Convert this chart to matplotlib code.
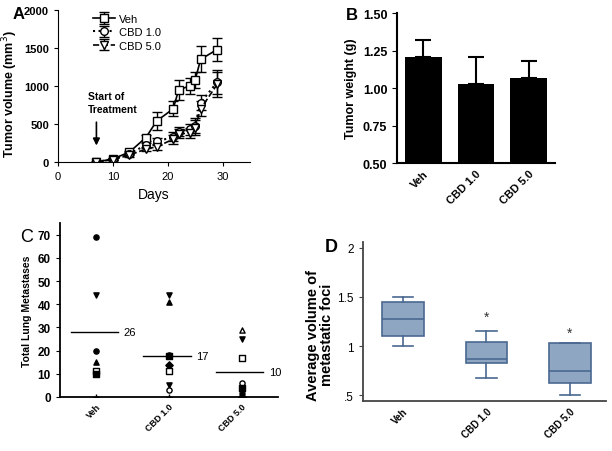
import matplotlib.pyplot as plt
import numpy as np

plt.rcParams['font.family'] = ['Liberation Sans', 'DejaVu Sans']

# --- panel A: tumor growth
days = [7, 10, 13, 16, 18, 21, 22, 24, 25, 26, 29]
veh_vol = [0, 40, 130, 320, 540, 700, 950, 1000, 1080, 1350, 1480]
veh_err = [0, 10, 20, 40, 120, 100, 130, 100, 100, 170, 150]
cbd1_vol = [0, 40, 110, 220, 270, 330, 400, 430, 480, 780, 1050]
cbd1_err = [0, 10, 20, 30, 40, 60, 60, 70, 100, 100, 160]
cbd5_vol = [0, 30, 90, 170, 200, 300, 370, 380, 450, 700, 1020]
cbd5_err = [0, 10, 20, 30, 40, 60, 60, 70, 100, 100, 160]

# --- panel B: tumor weight
groups = ['Veh', 'CBD 1.0', 'CBD 5.0']
weight = [1.21, 1.03, 1.07]
weight_err = [0.11, 0.18, 0.11]

# --- panel C: lung metastases (value, marker, filled)
veh_mets = [(69, 'o', 1), (44, 'v', 1), (20, 'o', 1), (15, '^', 1), (11, 's', 0), (10, 's', 1), (0, '+', 1)]
cbd1_mets = [(44, 'v', 1), (41, '^', 1), (18, 'o', 1), (17.5, 's', 1), (14, 'D', 1), (12.5, '^', 1),
             (11, 's', 0), (5, 'v', 1), (3, 'o', 0), (0, '+', 1)]
cbd5_mets = [(29, '^', 0), (25, 'v', 1), (17, 's', 0), (6, 'o', 0), (4, 's', 1), (2, '^', 1), (1, 'v', 1), (0, 'D', 1)]
mets_line = [28, 17.7, 10.8]
mets_label = ['26', '17', '10']

# --- panel D: foci volume box stats
box_low = [1.0, 0.67, 0.5]
box_q1 = [1.1, 0.83, 0.62]
box_med = [1.28, 0.87, 0.75]
box_q3 = [1.45, 1.04, 1.03]
box_high = [1.5, 1.15, 1.03]
star_y = [None, 1.3, 1.14]

fig = plt.figure(figsize=(6.12, 4.52), dpi=100)

# A
axA = fig.add_axes([0.0948, 0.6394, 0.3137, 0.3363])
axA.errorbar(days, veh_vol, yerr=veh_err, color='black', ls='-', lw=1.2, marker='s', ms=5.5,
             mfc='white', mec='black', capsize=3.5, elinewidth=1, label='Veh')
axA.errorbar(days, cbd1_vol, yerr=cbd1_err, color='black', ls=':', lw=1.5, marker='o', ms=5.5,
             mfc='white', mec='black', capsize=3.5, elinewidth=1, label='CBD 1.0')
axA.errorbar(days, cbd5_vol, yerr=cbd5_err, color='black', ls='--', lw=1.2, marker='v', ms=5.5,
             mfc='white', mec='black', capsize=3.5, elinewidth=1, label='CBD 5.0')
axA.set_xlim(0, 35)
axA.set_ylim(0, 2000)
axA.set_xticks([0, 10, 20, 30])
axA.set_yticks([0, 500, 1000, 1500, 2000])
axA.spines['top'].set_visible(False)
axA.spines['right'].set_visible(False)
axA.tick_params(labelsize=8, direction='out', length=3)
for t in axA.get_yticklabels():
    t.set_fontweight('bold')
axA.set_xlabel('Days', fontsize=10)
axA.set_ylabel('Tumor volume (mm$^3$)', fontsize=9, fontweight='bold')
axA.yaxis.set_label_coords(-0.2, 0.45)
axA.legend(loc='upper left', bbox_to_anchor=(0.13, 1.04), frameon=False, fontsize=8,
           handlelength=2, handletextpad=0.3, labelspacing=0.3)
axA.text(5.5, 780, 'Start of\nTreatment', fontsize=7.5, fontweight='bold', ha='left', va='center',
         linespacing=1.4)
axA.annotate('', xy=(7, 180), xytext=(7, 560),
             arrowprops=dict(arrowstyle='-|>', color='black', lw=1.2, mutation_scale=10))
fig.text(0.02, 0.958, 'A', fontsize=12, fontweight='bold')

# B
axB = fig.add_axes([0.6487, 0.637, 0.2582, 0.332])
xb = np.arange(len(groups))
axB.bar(xb, weight, width=0.7, bottom=0, color='black')
axB.errorbar(xb, weight, yerr=[[0, 0, 0], weight_err], fmt='none', ecolor='black', capsize=6, elinewidth=1.5,
             capthick=1.5)
axB.set_ylim(0.5, 1.5)
axB.set_xlim(-0.5, 2.5)
axB.set_yticks([0.5, 0.75, 1.0, 1.25, 1.5])
axB.set_yticklabels(['0.50', '0.75', '1.00', '1.25', '1.50'], fontweight='bold', fontsize=9)
axB.set_xticks(xb)
axB.set_xticklabels(groups, rotation=45, ha='right', rotation_mode='anchor', fontweight='bold', fontsize=8)
axB.tick_params(axis='x', length=0)
axB.spines['top'].set_visible(False)
axB.spines['right'].set_visible(False)
axB.spines['left'].set_linewidth(1.5)
axB.spines['bottom'].set_linewidth(1.5)
axB.set_ylabel('Tumor weight (g)', fontsize=9, fontweight='bold')
fig.text(0.565, 0.955, 'B', fontsize=12, fontweight='bold')

# C
axC = fig.add_axes([0.098, 0.1195, 0.356, 0.3845])
for i, pts in enumerate([veh_mets, cbd1_mets, cbd5_mets]):
    for val, mk, filled in pts:
        axC.scatter(i, val, marker=mk, s=14, facecolors='black' if filled else 'white',
                    edgecolors='black', linewidths=1, zorder=3)
    axC.plot([i - 0.35, i + 0.3], [mets_line[i]] * 2, color='black', lw=1)
    axC.text(i + 0.38, mets_line[i], mets_label[i], fontsize=8, va='center')
axC.set_xlim(-0.5, 2.5)
axC.set_ylim(0, 75)
axC.set_yticks(range(0, 71, 10))
axC.set_yticklabels([str(v) for v in range(0, 71, 10)], fontweight='bold', fontsize=8.5)
axC.set_xticks([0, 1, 2])
axC.set_xticklabels(groups, rotation=45, ha='right', rotation_mode='anchor', fontweight='bold', fontsize=6.5)
axC.tick_params(axis='x', length=0)
axC.tick_params(axis='y', length=3)
axC.spines['top'].set_visible(False)
axC.spines['right'].set_visible(False)
axC.spines['left'].set_linewidth(1.3)
axC.spines['bottom'].set_linewidth(1.3)
axC.set_ylabel('Total Lung Metastases', fontsize=7.5, fontweight='bold')
fig.text(0.033, 0.465, 'C', fontsize=13)

# D
axD = fig.add_axes([0.593, 0.1106, 0.397, 0.3518])
stats = []
for i in range(3):
    stats.append(dict(whislo=box_low[i], q1=box_q1[i], med=box_med[i], q3=box_q3[i],
                      whishi=box_high[i], fliers=[]))
edge = '#4a6890'
axD.bxp(stats, positions=[0, 1, 2], widths=0.5, showcaps=True, patch_artist=True,
        boxprops=dict(facecolor='#8fa6c2', edgecolor=edge, lw=1.2),
        medianprops=dict(color=edge, lw=1.2),
        whiskerprops=dict(color=edge, lw=1.2),
        capprops=dict(color=edge, lw=1.2))
for i, sy in enumerate(star_y):
    if sy is not None:
        axD.text(i, sy, '*', ha='center', va='center', fontsize=10, color='#333333')
axD.set_xlim(-0.48, 2.43)
axD.set_ylim(0.44, 2.06)
axD.set_yticks([0.5, 1.0, 1.5, 2.0])
axD.set_yticklabels(['.5', '1', '1.5', '2'], fontsize=8.5)
axD.set_xticks([0, 1, 2])
axD.set_xticklabels(groups, rotation=45, ha='right', rotation_mode='anchor', fontweight='bold', fontsize=7)
axD.tick_params(axis='x', length=0)
axD.tick_params(axis='y', length=3, color='#444444')
axD.spines['top'].set_visible(False)
axD.spines['right'].set_visible(False)
axD.spines['left'].set_color('#444444')
axD.spines['bottom'].set_color('#444444')
axD.spines['left'].set_linewidth(1.3)
axD.spines['bottom'].set_linewidth(1.3)
axD.set_ylabel('Average volume of\nmetastatic foci', fontsize=10.5, fontweight='bold',
               linespacing=1.0)
axD.yaxis.set_label_coords(-0.12, 0.42)
fig.text(0.531, 0.442, 'D', fontsize=13, fontweight='bold')

fig.savefig('out.png', dpi=100)
